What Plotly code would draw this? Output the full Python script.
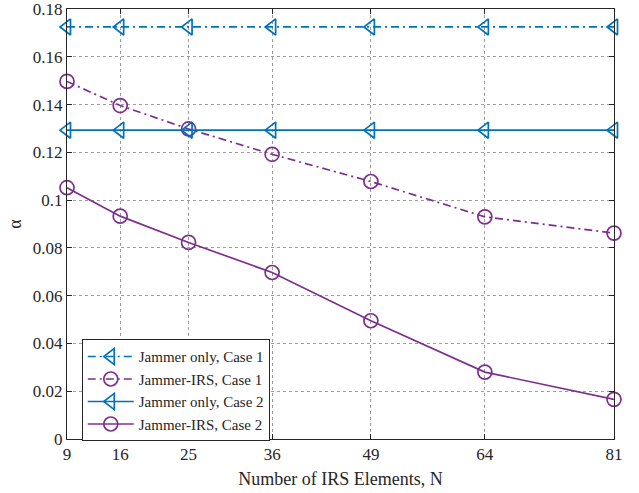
import plotly.graph_objects as go

N = [9, 16, 25, 36, 49, 64, 81]
jammer_only_case1 = [0.1725, 0.1725, 0.1725, 0.1725, 0.1725, 0.1725, 0.1725]
jammer_irs_case1 = [0.1497, 0.1396, 0.1298, 0.1192, 0.1078, 0.0930, 0.0862]
jammer_only_case2 = [0.1293, 0.1293, 0.1293, 0.1293, 0.1293, 0.1293, 0.1293]
jammer_irs_case2 = [0.1052, 0.0933, 0.0823, 0.0697, 0.0495, 0.0280, 0.0166]

y_ticks = [0, 0.02, 0.04, 0.06, 0.08, 0.1, 0.12, 0.14, 0.16, 0.18]
y_tick_labels = ["0", "0.02", "0.04", "0.06", "0.08", "0.1", "0.12", "0.14", "0.16", "0.18"]

BLUE = "#0072BD"
PURPLE = "#7E2F8E"
DASHDOT = "8px,4px,2px,4px"

fig = go.Figure()
series = [
    ("Jammer only, Case 1", jammer_only_case1, BLUE, DASHDOT, "triangle-left-open"),
    ("Jammer-IRS, Case 1", jammer_irs_case1, PURPLE, DASHDOT, "circle-open"),
    ("Jammer only, Case 2", jammer_only_case2, BLUE, "solid", "triangle-left-open"),
    ("Jammer-IRS, Case 2", jammer_irs_case2, PURPLE, "solid", "circle-open"),
]
for name, ys, color, dash, sym in series:
    fig.add_trace(go.Scatter(
        x=N, y=ys, name=name, mode="lines+markers", cliponaxis=False,
        line=dict(color=color, width=1.7, dash=dash),
        marker=dict(symbol=sym, size=14, color=color, line=dict(width=1.7, color=color)),
    ))

font_family = "Liberation Serif"
axis_common = dict(
    showline=True, linecolor="#262626", linewidth=1, mirror="ticks",
    ticks="inside", ticklen=5, tickcolor="#262626",
    showgrid=True, gridcolor="rgba(38,38,38,0.45)", griddash="dot", gridwidth=1,
    zeroline=False, ticklabeloverflow="allow", automargin=False,
    tickfont=dict(size=17, color="#262626", family=font_family),
)
fig.update_xaxes(
    range=[9, 81], tickvals=N, ticktext=[str(n) for n in N],
    title=dict(text="Number of IRS Elements, N", font=dict(size=18, color="#262626", family=font_family), standoff=8),
    **axis_common,
)
fig.update_yaxes(
    range=[0, 0.18002], tickvals=y_ticks, ticktext=y_tick_labels,
    title=dict(text="α", font=dict(size=18, color="#262626", family=font_family), standoff=6),
    **axis_common,
)
fig.update_layout(
    width=639, height=493,
    margin=dict(l=67, r=25, t=9, b=54),
    paper_bgcolor="white", plot_bgcolor="white",
    font=dict(family=font_family, size=17, color="#262626"),
    legend=dict(
        x=0.027, y=0.232, xanchor="left", yanchor="top",
        bgcolor="white", bordercolor="#262626", borderwidth=1,
        font=dict(size=15, color="#262626", family=font_family),
        tracegroupgap=0, itemwidth=46,
    ),
)
fig.write_html("out.html")
